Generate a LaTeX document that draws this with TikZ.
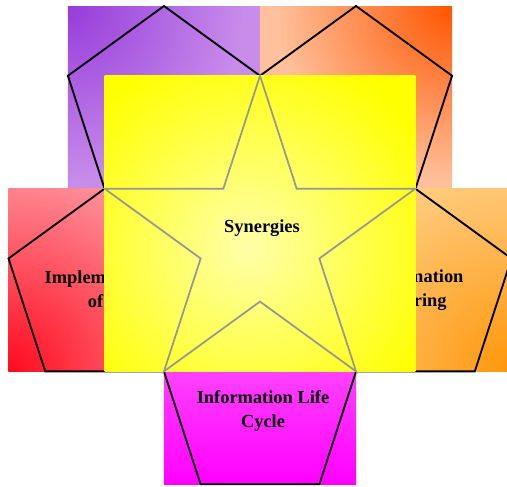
\documentclass[tikz,border=0pt]{standalone}
\usepackage{fontspec}
\setmainfont{Liberation Serif}
\usetikzlibrary{calc}

\definecolor{tldark}{RGB}{150,60,218}
\definecolor{tllight}{RGB}{200,140,235}
\definecolor{trdark}{RGB}{255,85,0}
\definecolor{trlight}{RGB}{255,192,155}
\definecolor{lfdark}{RGB}{255,10,30}
\definecolor{lflight}{RGB}{255,155,165}
\definecolor{rtdark}{RGB}{255,150,10}
\definecolor{rtlight}{RGB}{255,206,132}
\definecolor{btdark}{RGB}{255,0,255}
\definecolor{btlight}{RGB}{255,105,255}
\definecolor{sqlight}{RGB}{255,255,170}
\definecolor{stargray}{RGB}{150,150,150}

% radial glows that reach the outer colour well inside the circle
\pgfdeclareradialshading{tlglow}{\pgfpoint{0bp}{0bp}}{color(0bp)=(tldark); color(22bp)=(tllight); color(50bp)=(tllight)}
\pgfdeclareradialshading{trglow}{\pgfpoint{0bp}{0bp}}{color(0bp)=(trdark); color(22bp)=(trlight); color(50bp)=(trlight)}
\pgfdeclareradialshading{lfglow}{\pgfpoint{0bp}{0bp}}{color(0bp)=(lfdark); color(22bp)=(lflight); color(50bp)=(lflight)}
\pgfdeclareradialshading{rtglow}{\pgfpoint{0bp}{0bp}}{color(0bp)=(rtdark); color(22bp)=(rtlight); color(50bp)=(rtlight)}

\tikzset{
  pentline/.style={black, line width=1.4pt, line join=miter},
  starline/.style={stargray, line width=1.3pt, line join=miter},
  blocktext/.style={font=\fontsize{13.8}{18}\selectfont\bfseries, align=center, inner sep=0pt},
}

\begin{document}
\begin{tikzpicture}[x=0.75pt,y=0.75pt]
    \useasboundingbox (0,0) rectangle (507,486);
    \coordinate (starc) at (260,246.8);

    % Four corner pentagons, box shaded from one corner
    \foreach \ang/\nm/\cx/\cy/\rad in {126/tl/-96.1/101/200, 54/tr/96.1/101/200,
                                       198/lf/-96.1/-81.7/250, -18/rt/96.1/-81.7/240} {
        \coordinate (\nm) at ($(starc)+(\ang:163.4)$);
        \begin{scope}
            \clip ($(\nm)+(-96.1,-81.7)$) rectangle ($(\nm)+(96.1,101)$);
            \fill[\nm light] ($(\nm)+(-96.1,-81.7)$) rectangle ($(\nm)+(96.1,101)$);
            \shade[shading=\nm glow] ($(\nm)+(\cx,\cy)$) circle (\rad);
        \end{scope}
        \draw[pentline] ($(\nm)+(90:101)$) -- ($(\nm)+(162:101)$) -- ($(\nm)+(234:101)$)
            -- ($(\nm)+(306:101)$) -- ($(\nm)+(18:101)$) -- cycle;
    }

    % Bottom pentagon
    \coordinate (bt) at ($(starc)+(270:163.4)$);
    \shade[top color=btlight, bottom color=btdark]
        ($(bt)+(-96.1,-81.7)$) rectangle ($(bt)+(96.1,101)$);
    \draw[pentline] ($(bt)+(90:101)$) -- ($(bt)+(162:101)$) -- ($(bt)+(234:101)$)
        -- ($(bt)+(306:101)$) -- ($(bt)+(18:101)$) -- cycle;

    % Side labels, partly under the square
    \node[blocktext] (implabel) at ($(lf)+(3,0)$) {Implementation\\of IT};
    \node[blocktext] (infolabel) at (rt) {Information\\Sharing};

    % Square with the star
    \coordinate (glow) at ($(starc)+(-12,-8)$);
    \begin{scope}
        \clip ($(starc)+(-155.4,-132.2)$) rectangle ($(starc)+(155.4,163.4)$);
        \shade[inner color=sqlight, outer color=yellow]
            ($(glow)+(-205,-205)$) rectangle ($(glow)+(205,205)$);
    \end{scope}
    \draw[starline] ($(starc)+(90:163.4)$) -- ($(starc)+(126:62.4)$)
        -- ($(starc)+(162:163.4)$) -- ($(starc)+(198:62.4)$)
        -- ($(starc)+(234:163.4)$) -- ($(starc)+(270:62.4)$)
        -- ($(starc)+(306:163.4)$) -- ($(starc)+(342:62.4)$)
        -- ($(starc)+(18:163.4)$) -- ($(starc)+(54:62.4)$) -- cycle;

    \node[blocktext] (synlabel) at ($(starc)+(2,11)$) {Synergies};
    \node[blocktext] (ilclabel) at ($(bt)+(3,-8)$) {Information Life\\Cycle};
\end{tikzpicture}
\end{document}
